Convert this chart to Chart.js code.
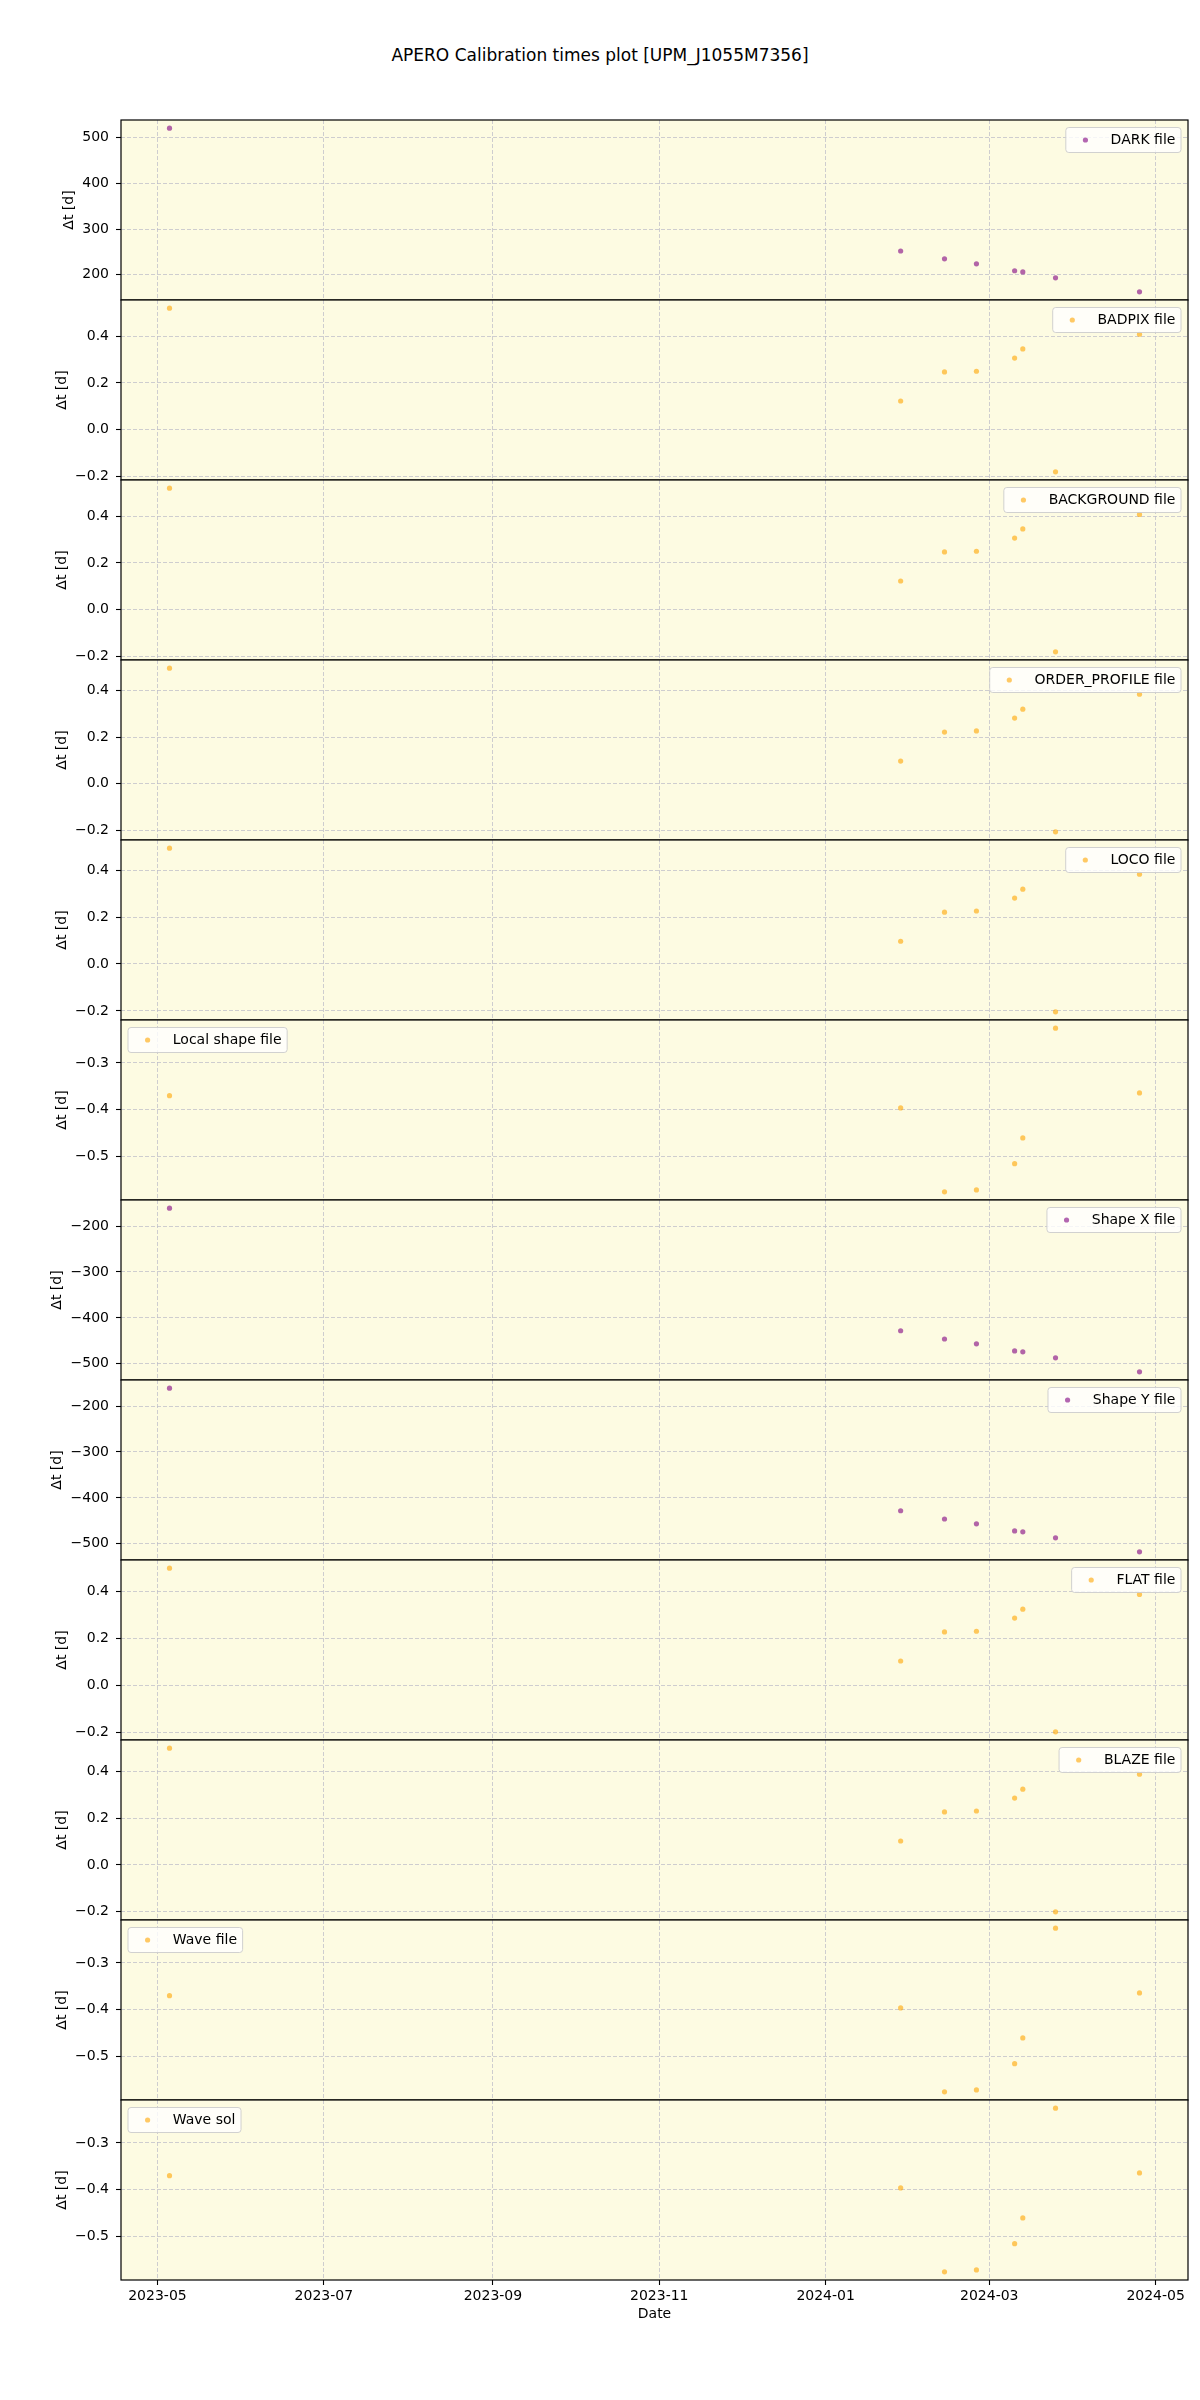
<!DOCTYPE html>
<html>
<head>
<meta charset="utf-8">
<script src="https://cdn.jsdelivr.net/npm/chart.js@4.4.0/dist/chart.umd.min.js"></script>
<style>
  body { margin: 0; background: #fff; }
  #fig { position: relative; width: 1200px; height: 2400px; background: #fff; }
  #fig canvas { position: absolute; left: 0; }
  #title { position: absolute; left: 0; top: 45px; width: 1200px; line-height: 20px;
           text-align: center; font: 17px "DejaVu Sans"; color: #000; }
</style>
</head>
<body>
<div id="fig"><div id="title">APERO Calibration times plot [UPM_J1055M7356]</div></div>
<script>
// observation dates (UTC), one per calibration point
const obsDates = ['2023-05-05T10:00', '2024-01-28T12:00', '2024-02-13T14:00', '2024-02-25T07:00',
                  '2024-03-10T07:00', '2024-03-13T07:00', '2024-03-25T07:00', '2024-04-25T02:00'];

// delta t [days] per calibration type, same order as obsDates
const darkDt         = [520, 252, 235, 224, 209, 206.5, 193.5, 163];
const badpixDt       = [0.519, 0.123, 0.247, 0.250, 0.306, 0.345, -0.179, 0.408];
const backgroundDt   = [0.519, 0.123, 0.247, 0.250, 0.306, 0.345, -0.179, 0.407];
const orderProfileDt = [0.494, 0.097, 0.221, 0.226, 0.281, 0.319, -0.205, 0.383];
const locoDt         = [0.494, 0.097, 0.221, 0.226, 0.281, 0.319, -0.204, 0.383];
const localShapeDt   = [-0.370, -0.396, -0.575, -0.571, -0.515, -0.460, -0.226, -0.364];
const shapeXDt       = [-161, -428, -446, -456.5, -472, -474, -487, -517.5];
const shapeYDt       = [-161, -428, -446, -456.5, -472, -474, -487, -517.5];
const flatDt         = [0.499, 0.103, 0.227, 0.230, 0.286, 0.324, -0.199, 0.387];
const blazeDt        = [0.498, 0.102, 0.226, 0.230, 0.285, 0.323, -0.200, 0.387];
const waveFileDt     = [-0.370, -0.396, -0.575, -0.571, -0.515, -0.460, -0.226, -0.364];
const waveSolDt      = [-0.370, -0.396, -0.575, -0.571, -0.515, -0.460, -0.226, -0.364];

// x tick positions
const xTickDates = ['2023-05-01', '2023-07-01', '2023-09-01', '2023-11-01', '2024-01-01', '2024-03-01', '2024-05-01'];

const PURPLE = 'rgba(128,0,128,0.6)';
const ORANGE = 'rgba(255,165,0,0.6)';
const BG = '#fdfbe2';
const GRID = 'rgba(185,185,200,0.7)';
const FONT = {family: 'DejaVu Sans', size: 14};
const FONT_CSS = '14px "DejaVu Sans"';

const panels = [
  {label: 'DARK file', values: darkDt, color: PURPLE, step: 100, side: 'right'},
  {label: 'BADPIX file', values: badpixDt, color: ORANGE, step: 0.2, side: 'right'},
  {label: 'BACKGROUND file', values: backgroundDt, color: ORANGE, step: 0.2, side: 'right'},
  {label: 'ORDER_PROFILE file', values: orderProfileDt, color: ORANGE, step: 0.2, side: 'right'},
  {label: 'LOCO file', values: locoDt, color: ORANGE, step: 0.2, side: 'right'},
  {label: 'Local shape file', values: localShapeDt, color: ORANGE, step: 0.1, side: 'left'},
  {label: 'Shape X file', values: shapeXDt, color: PURPLE, step: 100, side: 'right'},
  {label: 'Shape Y file', values: shapeYDt, color: PURPLE, step: 100, side: 'right'},
  {label: 'FLAT file', values: flatDt, color: ORANGE, step: 0.2, side: 'right'},
  {label: 'BLAZE file', values: blazeDt, color: ORANGE, step: 0.2, side: 'right'},
  {label: 'Wave file', values: waveFileDt, color: ORANGE, step: 0.1, side: 'left'},
  {label: 'Wave sol', values: waveSolDt, color: ORANGE, step: 0.1, side: 'left'}
];

const PANEL_TOP = 120, PANEL_H = 180, AXIS_LEFT = 121, RIGHT_PAD = 12, MARGIN = 20, XAXIS_H = 50;

const xs = obsDates.map(d => Date.parse(d + 'Z'));
const xTicks = xTickDates.map(d => Date.parse(d + 'T00:00Z'));
const xMin = Math.min(...xs), xMax = Math.max(...xs);
const xPad = (xMax - xMin) * 0.05;

function fmtMonth(v) {
  const d = new Date(v);
  return d.getUTCFullYear() + '-' + String(d.getUTCMonth() + 1).padStart(2, '0');
}

function fmtNum(v, dec) {
  if (Math.abs(v) < 1e-9) v = 0;
  return v.toFixed(dec).replace('-', '\u2212');
}

const fig = document.getElementById('fig');

panels.forEach((p, i) => {
  const last = i === panels.length - 1;
  const h = MARGIN + PANEL_H + (last ? XAXIS_H : MARGIN);
  const canvas = document.createElement('canvas');
  canvas.width = 1200;
  canvas.height = h;
  canvas.style.top = (PANEL_TOP + i * PANEL_H - MARGIN) + 'px';
  fig.appendChild(canvas);

  const yMinV = Math.min(...p.values), yMaxV = Math.max(...p.values);
  const yPad = (yMaxV - yMinV) * 0.05;
  const dec = p.step < 1 ? 1 : 0;

  const background = {
    id: 'background',
    beforeDraw(chart) {
      const {ctx, chartArea: a} = chart;
      ctx.save();
      ctx.fillStyle = BG;
      ctx.fillRect(a.left, a.top, a.right - a.left, a.bottom - a.top);
      ctx.restore();
    }
  };

  const panelLegend = {
    id: 'panelLegend',
    afterDatasetsDraw(chart) {
      const {ctx, chartArea: a} = chart;
      ctx.save();
      ctx.font = FONT_CSS;
      const tw = ctx.measureText(p.label).width;
      const pad = 5.6, handle = 28, gap = 11.2, bh = 25;
      const bw = pad + handle + gap + tw + pad;
      const bx = p.side === 'left' ? a.left + 7 : a.right - 7 - bw;
      const by = a.top + 7.5;
      ctx.beginPath();
      ctx.roundRect(bx, by, bw, bh, 3);
      ctx.fillStyle = 'rgba(255,255,255,0.8)';
      ctx.fill();
      ctx.strokeStyle = 'rgba(204,204,204,0.9)';
      ctx.lineWidth = 1;
      ctx.stroke();
      ctx.beginPath();
      ctx.arc(bx + pad + handle / 2, by + bh / 2, 2.6, 0, Math.PI * 2);
      ctx.fillStyle = p.color;
      ctx.fill();
      ctx.fillStyle = '#000';
      ctx.textBaseline = 'middle';
      ctx.textAlign = 'left';
      ctx.fillText(p.label, bx + pad + handle + gap, by + bh / 2 + 0.5);
      ctx.restore();
    }
  };

  const frame = {
    id: 'frame',
    afterDraw(chart) {
      const {ctx, chartArea: a} = chart;
      const yScale = chart.scales.y;
      ctx.save();
      // y axis title, placed left of the widest tick label
      ctx.font = FONT_CSS;
      const widest = Math.max(...yScale.ticks.map(t => ctx.measureText(t.label).width));
      const cx = a.left - 5 - 7 - widest - 5.6 - 7.5;
      const cy = (a.top + a.bottom) / 2;
      ctx.translate(cx, cy);
      ctx.rotate(-Math.PI / 2);
      ctx.fillStyle = '#000';
      ctx.textAlign = 'center';
      ctx.textBaseline = 'middle';
      ctx.fillText('\u0394t [d]', 0, 0);
      ctx.setTransform(1, 0, 0, 1, 0, 0);
      // axes frame
      ctx.strokeStyle = '#000';
      ctx.lineWidth = 1.2;
      ctx.strokeRect(a.left, a.top, a.right - a.left, a.bottom - a.top);
      ctx.restore();
    }
  };

  new Chart(canvas, {
    type: 'scatter',
    data: {
      datasets: [{
        label: p.label,
        data: xs.map((x, k) => ({x: x, y: p.values[k]})),
        pointBackgroundColor: p.color,
        backgroundColor: p.color,
        pointBorderWidth: 0,
        borderWidth: 0,
        pointRadius: 2.6
      }]
    },
    options: {
      responsive: false,
      animation: false,
      events: [],
      layout: {padding: {top: MARGIN, right: RIGHT_PAD, left: 0, bottom: last ? 0 : MARGIN}},
      plugins: {legend: {display: false}, tooltip: {enabled: false}},
      scales: {
        x: {
          type: 'linear',
          min: xMin - xPad,
          max: xMax + xPad,
          afterBuildTicks(scale) {
            scale.ticks = xTicks.map(v => ({value: v}));
          },
          afterFit(scale) {
            scale.height = last ? XAXIS_H : 0;
          },
          grid: {color: GRID, lineWidth: 1, drawTicks: last, tickLength: 5, tickColor: '#000', tickWidth: 1.1, tickBorderDash: []},
          border: {display: false, dash: [4, 2]},
          ticks: {display: last, autoSkip: false, maxRotation: 0, padding: 3, color: '#000', font: FONT,
                  callback: v => fmtMonth(v)},
          title: {display: last, text: 'Date', color: '#000', font: FONT, padding: {top: 0, bottom: 7}}
        },
        y: {
          type: 'linear',
          min: yMinV - yPad,
          max: yMaxV + yPad,
          afterBuildTicks(scale) {
            // ticks at whole multiples of the panel step inside the axis range
            const ticks = [];
            const k0 = Math.ceil(scale.min / p.step - 1e-9);
            const k1 = Math.floor(scale.max / p.step + 1e-9);
            for (let k = k0; k <= k1; k++) ticks.push({value: k * p.step});
            scale.ticks = ticks;
          },
          afterFit(scale) {
            scale.width = AXIS_LEFT;
          },
          grid: {color: GRID, lineWidth: 1, drawTicks: true, tickLength: 5, tickColor: '#000', tickWidth: 1.1, tickBorderDash: []},
          border: {display: false, dash: [4, 2]},
          ticks: {padding: 7, color: '#000', font: FONT, callback: v => fmtNum(v, dec)},
          title: {display: false}
        }
      }
    },
    plugins: [background, panelLegend, frame]
  });
});
</script>
</body>
</html>
